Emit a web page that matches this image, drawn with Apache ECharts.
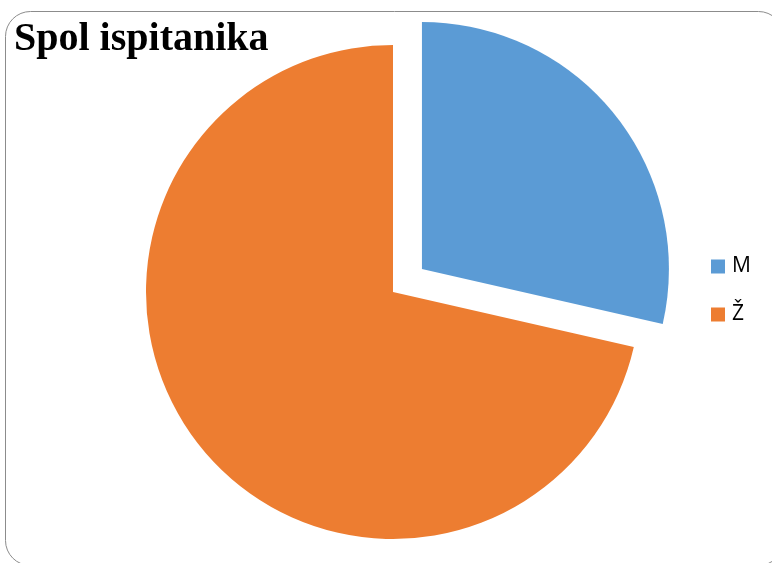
<!DOCTYPE html>
<html>
<head>
<meta charset="utf-8">
<script src="https://cdn.jsdelivr.net/npm/echarts@6/dist/echarts.min.js"></script>
<style>html,body{margin:0;padding:0;background:#fff;}#c{width:772px;height:563px;}</style>
</head>
<body>
<div id="c"></div>
<script>
var categories = ['M', 'Ž'];
var values = [2, 5];
var colors = ['#5B9BD5', '#ED7D31'];
var titleText = 'Spol ispitanika';

var chart = echarts.init(document.getElementById('c'), null, {renderer: 'canvas'});
var data = categories.map(function (name, i) {
  return { name: name, value: values[i], selected: i === 0, itemStyle: { color: colors[i] } };
});
chart.setOption({
  animation: false,
  backgroundColor: '#fff',
  graphic: [{
    type: 'rect',
    shape: { x: 5.5, y: 11.5, width: 778, height: 554, r: 25 },
    style: { fill: 'none', stroke: '#8c8c8c', lineWidth: 1 },
    z: -1
  }],
  title: {
    text: titleText,
    left: 14,
    top: 20,
    padding: 0,
    textStyle: { fontFamily: 'Liberation Serif', fontWeight: 'bold', fontSize: 40, color: '#000' }
  },
  legend: {
    orient: 'vertical',
    left: 711,
    top: 256,
    padding: 0,
    itemWidth: 14,
    itemHeight: 14,
    itemGap: 27,
    icon: 'rect',
    selectedMode: false,
    textStyle: { fontFamily: 'Open Sans', fontSize: 21, color: '#000', padding: [0, 0, 0, 2] },
    data: categories
  },
  series: [{
    type: 'pie',
    center: [393, 292],
    radius: [0, 247],
    startAngle: 90,
    clockwise: true,
    selectedMode: 'single',
    selectedOffset: 37,
    label: { show: false },
    labelLine: { show: false },
    emphasis: { disabled: true },
    itemStyle: { borderWidth: 0 },
    data: data
  }]
});
</script>
</body>
</html>
